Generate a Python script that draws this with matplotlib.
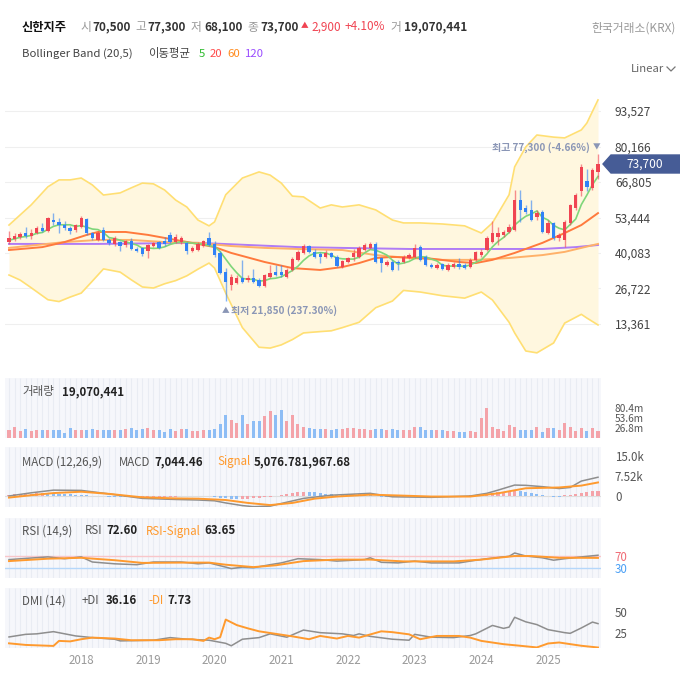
import matplotlib.pyplot as plt
from matplotlib.patches import Polygon
import numpy as np

plt.rcParams['font.family'] = ['Noto Sans CJK KR', 'DejaVu Sans']

# ---------------- 신한지주 월봉 (2016-12 ~ 2025-10), 가격 단위: 천원 ----------------
opens = [44.2, 45.3, 46.0, 47.6, 46.4, 47.6, 49.5, 48.5, 52.5, 51.7,
         50.6, 49.5, 48.7, 49.9, 52.8, 47.6, 45.0, 48.7, 44.9, 43.5,
         44.2, 43.1, 44.6, 41.6, 42.0, 40.8, 42.7, 44.2, 44.6, 46.8,
         44.2, 44.2, 43.8, 40.8, 41.2, 42.7, 45.7, 43.4, 40.1, 32.9,
         28.0, 28.8, 30.7, 29.9, 30.7, 29.9, 27.7, 31.0, 32.9, 32.9,
         31.0, 33.7, 37.5, 40.1, 42.7, 40.5, 39.7, 38.6, 40.1, 38.6,
         34.8, 36.7, 38.6, 38.6, 41.2, 42.0, 43.5, 38.2, 35.6, 36.7,
         36.7, 36.7, 38.2, 38.6, 42.3, 38.6, 35.6, 34.4, 35.9, 33.7,
         34.8, 35.9, 35.6, 34.8, 37.5, 39.3, 41.2, 44.2, 46.1, 46.9,
         48.0, 48.7, 60.0, 56.9, 56.3, 53.6, 55.5, 47.6, 51.4, 45.7,
         45.0, 51.4, 57.0, 63.5, 67.2, 64.5, 70.5]
highs = [48.4, 47.6, 48.0, 49.9, 49.1, 50.3, 51.4, 53.6, 55.2, 53.2,
         52.0, 50.3, 51.0, 54.0, 53.2, 48.0, 48.4, 49.9, 45.7, 46.5,
         44.6, 45.0, 45.7, 42.3, 42.3, 43.5, 44.2, 44.6, 46.1, 48.0,
         47.3, 46.5, 44.2, 42.7, 44.2, 45.0, 48.0, 44.6, 40.8, 34.4,
         32.0, 31.8, 37.5, 31.8, 34.0, 30.7, 32.2, 35.5, 35.5, 35.5,
         34.4, 38.6, 41.2, 43.5, 43.1, 41.6, 40.5, 41.2, 40.5, 39.3,
         37.5, 38.6, 41.6, 42.7, 43.8, 44.2, 44.2, 38.6, 37.5, 37.5,
         37.5, 39.3, 40.1, 43.5, 43.1, 39.3, 36.3, 36.3, 36.3, 36.3,
         36.7, 38.2, 36.3, 38.2, 40.8, 41.6, 46.5, 52.0, 50.0, 48.7,
         51.0, 63.7, 63.7, 58.1, 60.0, 56.3, 56.3, 52.5, 51.8, 47.6,
         52.5, 58.5, 62.7, 73.6, 71.6, 72.0, 77.3]
lows = [43.5, 44.6, 45.4, 45.7, 45.4, 47.2, 47.9, 48.0, 50.6, 47.6,
        48.7, 47.2, 47.9, 49.5, 46.9, 45.0, 44.6, 44.6, 43.1, 42.7,
        40.8, 42.3, 41.2, 40.5, 39.0, 38.2, 42.3, 41.6, 42.7, 43.8,
        43.8, 43.5, 39.7, 40.5, 40.8, 42.3, 42.7, 38.6, 32.2, 21.85,
        26.0, 28.4, 28.8, 29.2, 28.8, 27.3, 27.3, 30.7, 31.4, 31.0,
        30.7, 33.3, 37.1, 39.7, 40.1, 38.2, 36.3, 38.2, 38.2, 34.8,
        34.4, 36.3, 37.0, 38.2, 40.8, 41.6, 36.3, 32.9, 35.2, 33.3,
        33.7, 36.3, 37.8, 38.2, 37.1, 35.2, 34.4, 34.1, 33.7, 33.3,
        34.4, 34.1, 34.1, 34.4, 37.1, 38.6, 40.8, 43.8, 43.1, 46.1,
        47.6, 48.4, 51.8, 54.8, 52.1, 52.5, 47.6, 47.2, 45.0, 44.6,
        42.3, 50.6, 56.3, 61.5, 63.5, 63.8, 68.1]
closes = [45.7, 46.5, 47.3, 46.5, 47.6, 49.5, 48.3, 53.2, 51.7, 50.6,
          49.5, 48.3, 50.6, 53.2, 47.6, 45.7, 47.6, 44.9, 43.8, 45.7,
          42.7, 44.6, 41.6, 40.8, 39.7, 43.1, 43.8, 41.95, 43.5, 44.2,
          46.0, 45.7, 41.0, 41.95, 43.5, 44.6, 43.1, 39.3, 32.6, 29.2,
          31.0, 30.7, 29.2, 30.7, 29.2, 27.7, 31.8, 32.5, 31.8, 31.8,
          33.7, 37.8, 40.5, 42.7, 40.5, 38.6, 38.6, 40.1, 38.6, 35.2,
          37.1, 38.2, 40.1, 41.95, 43.1, 43.5, 36.7, 36.3, 36.7, 33.7,
          36.3, 38.6, 39.3, 41.95, 37.5, 35.6, 34.8, 35.6, 34.1, 35.6,
          35.9, 34.8, 34.4, 37.5, 40.5, 40.5, 45.7, 47.6, 47.6, 48.0,
          49.9, 60.0, 56.3, 55.5, 52.5, 55.1, 48.0, 51.4, 45.7, 46.9,
          51.8, 58.1, 62.0, 72.5, 64.9, 71.3, 73.7]
# 거래량 (백만 주)
volume_m = [20.6, 29.5, 17.9, 23.3, 17.9, 22.2, 20.6, 22.2, 20.6, 22.2,
            14.2, 27.6, 21.4, 22.2, 22.2, 24.1, 22.2, 20.6, 20.6, 20.6,
            22.2, 24.9, 27.6, 20.6, 24.9, 27.6, 20.6, 21.4, 16.8, 24.1,
            17.9, 24.9, 24.9, 17.9, 17.9, 22.2, 22.2, 23.3, 38.3, 62.5,
            49.0, 41.0, 62.5, 38.3, 46.3, 44.7, 59.0, 73.1, 62.5, 75.8,
            44.7, 62.5, 38.3, 29.3, 26.9, 24.1, 24.1, 24.1, 21.4, 24.1,
            24.1, 26.9, 26.9, 24.1, 24.1, 21.4, 24.1, 24.1, 21.4, 24.1,
            21.4, 21.4, 21.4, 29.3, 29.3, 21.4, 21.4, 21.4, 21.4, 18.7,
            18.7, 16.0, 16.0, 18.7, 16.0, 53.8, 80.7, 29.3, 24.6, 18.7,
            35.1, 29.3, 21.1, 21.1, 21.1, 29.3, 16.4, 26.9, 26.9, 21.1,
            39.8, 29.3, 18.7, 26.9, 18.7, 26.9, 19.07]

ma5 = [44.9, 45.4, 46.0, 46.3, 46.7, 47.5, 47.8, 49.0, 50.1, 50.7,
       50.7, 50.7, 50.1, 50.4, 49.8, 49.1, 48.9, 47.8, 45.9, 45.5,
       44.9, 44.3, 43.7, 43.1, 41.9, 42.0, 41.8, 41.9, 42.4, 43.3,
       43.9, 44.3, 44.1, 43.8, 43.6, 43.4, 42.8, 42.5, 40.6, 37.8,
       35.0, 32.6, 30.5, 30.2, 30.2, 29.5, 29.7, 30.4, 30.6, 31.1,
       32.3, 33.5, 35.1, 37.3, 39.0, 40.0, 40.2, 40.1, 39.3, 38.2,
       37.9, 37.8, 37.8, 38.5, 40.1, 41.4, 41.1, 40.3, 39.3, 37.4,
       35.9, 36.3, 36.9, 38.0, 38.7, 38.6, 37.8, 37.1, 35.5, 35.1,
       35.2, 35.2, 35.0, 35.6, 36.6, 37.5, 39.7, 42.4, 44.4, 45.9,
       47.8, 50.6, 52.4, 53.9, 54.8, 55.9, 53.5, 52.5, 50.5, 49.4,
       48.8, 50.8, 52.9, 58.3, 61.9, 65.8, 68.9]

ma20_x = [0, 6, 10, 14, 16, 21, 25, 30, 35, 37, 40, 46, 51, 56, 60, 63, 66,
          69, 75, 81, 84, 87, 91, 96, 100, 103, 106]
ma20 = [41.2, 42.3, 44.2, 46.9, 48.0, 48.0, 46.9, 45.0, 43.1, 42.3, 40.1,
        36.7, 34.4, 33.7, 34.8, 36.3, 38.2, 38.6, 38.2, 36.7, 36.3, 37.5,
        40.1, 43.9, 47.6, 50.6, 55.1]
ma60_x = [0, 10, 16, 22, 28, 34, 40, 46, 52, 60, 66, 72, 78, 84, 90, 96, 100, 106]
ma60 = [42.0, 44.2, 45.0, 45.0, 44.2, 43.9, 42.7, 42.0, 41.6, 41.2, 39.3,
        38.2, 37.5, 37.5, 38.2, 39.3, 40.5, 43.5]
ma120_x = [0, 16, 34, 52, 60, 72, 84, 96, 102, 106]
ma120 = [43.5, 43.5, 43.9, 42.3, 42.0, 41.6, 41.6, 41.6, 42.3, 43.1]

bb_x = [0, 2, 4, 7, 9, 11, 13, 15, 17, 20, 22, 24, 26, 28, 30, 32, 34, 36,
        37, 39, 42, 45, 47, 49, 51, 53, 56, 58, 60, 63, 66, 69, 71, 74, 78,
        82, 85, 87, 90, 91, 93, 95, 98, 100, 103, 104, 106]
bb_upper = [50.6, 54.4, 58.2, 65.0, 67.6, 67.6, 68.3, 65.7, 61.9, 62.7,
            64.6, 66.4, 66.1, 63.8, 60.0, 57.4, 52.5, 50.3, 51.8, 62.0,
            68.3, 70.6, 69.4, 66.4, 61.5, 61.2, 57.0, 58.2, 57.4, 58.2,
            56.3, 52.5, 51.4, 51.4, 51.0, 50.3, 47.6, 51.4, 62.0, 72.5,
            80.0, 84.5, 83.7, 83.4, 86.4, 89.0, 97.7]
bb_lower = [31.8, 29.9, 27.0, 22.5, 21.8, 23.5, 25.0, 29.5, 34.1, 32.9,
            30.0, 27.3, 26.9, 28.5, 29.7, 31.5, 34.0, 36.3, 34.4, 25.0,
            12.0, 4.6, 4.3, 5.5, 7.5, 10.0, 10.5, 10.8, 12.0, 14.0,
            19.5, 22.0, 26.0, 25.4, 24.0, 23.1, 25.4, 22.4, 14.0, 10.0,
            3.2, 2.5, 6.2, 13.7, 17.0, 15.6, 13.0]

# MACD (천 단위)
macd_x = [0, 4, 8, 13, 18, 24, 30, 34, 37, 39, 42, 44, 47, 49, 53, 58, 65,
          69, 76, 83, 86, 88, 91, 93, 96, 99, 101, 103, 106]
macd = [0.0, 1.2, 2.2, 2.1, 0.8, -0.9, -1.3, -1.5, -1.8, -2.6, -3.6, -4.0,
        -3.8, -2.8, -0.9, 0.3, 1.0, -0.3, -0.5, 0.0, 1.0, 2.2, 4.1, 4.0,
        3.5, 2.8, 3.2, 5.6, 7.04]
signal_x = [0, 4, 8, 13, 18, 24, 30, 34, 39, 43, 47, 51, 55, 59, 65, 70, 76,
            83, 88, 93, 99, 103, 106]
signal = [-0.6, 0.3, 1.1, 1.6, 0.8, -0.5, -0.9, -1.0, -1.5, -2.6, -3.4, -2.6,
          -1.0, -0.2, 0.5, 0.2, -0.2, -0.2, 1.0, 2.9, 3.2, 3.9, 5.08]
macd_hist = [0.5, 0.6, 0.7, 0.8, 0.9, 1.0, 1.1, 1.0, 0.9, 0.8,
             0.7, 0.6, 0.5, 0.4, 0.3, 0.1, 0.0, -0.1, -0.2, -0.3,
             -0.4, -0.5, -0.5, -0.6, -0.5, -0.5, -0.4, -0.4, -0.3, -0.3,
             -0.2, -0.1, -0.1, 0.0, 0.1, 0.1, 0.0, -0.3, -0.6, -0.9,
             -1.0, -1.2, -1.1, -1.0, -0.8, -0.6, -0.4, -0.2, 0.1, 0.4,
             0.8, 1.2, 1.5, 1.6, 1.5, 1.4, 1.2, 0.9, 0.7, 0.5,
             0.4, 0.5, 0.6, 0.6, 0.5, 0.4, 0.1, -0.2, -0.4, -0.5,
             -0.4, -0.3, -0.2, 0.0, -0.1, -0.2, -0.3, -0.3, -0.2, -0.1,
             0.0, 0.0, 0.1, 0.2, 0.4, 0.6, 0.9, 1.2, 1.4, 1.6,
             1.9, 2.3, 1.8, 1.4, 1.0, 0.6, 0.3, 0.0, -0.2, -0.4,
             0.2, 0.5, 0.8, 1.2, 1.5, 1.7, 1.97]

rsi_x = [0, 3, 7, 10, 13, 15, 19, 23, 26, 31, 34, 36, 39, 40, 42, 44, 47, 49,
         52, 56, 59, 64, 65, 67, 70, 73, 76, 81, 83, 86, 90, 91, 93, 96, 98,
         100, 103, 106]
rsi = [58, 62, 67, 61, 67, 50, 44, 41, 50, 50, 44, 47, 33, 28, 33, 31, 41, 47,
       61, 58, 53, 58, 64, 49, 47, 53, 47, 47, 53, 61, 69, 80, 70, 64, 56,
       61, 67, 72.6]
rsi_sig_x = [0, 7, 13, 19, 24, 31, 36, 39, 44, 48, 53, 59, 65, 71, 80, 85, 91,
             94, 99, 103, 106]
rsi_sig = [53, 61, 64, 56, 47, 48, 48, 41, 33, 39, 53, 58, 58, 52, 52, 58, 70,
           70, 64, 64, 63.65]

pdi_x = [0, 3, 5, 8, 12, 15, 19, 20, 26, 29, 32, 36, 39, 40, 42, 45, 47, 50,
         53, 56, 60, 62, 63, 65, 69, 72, 73, 76, 80, 83, 84, 87, 89, 90, 91,
         93, 95, 97, 100, 101, 103, 105, 106]
pdi = [20.3, 23.4, 24.0, 26.6, 21.5, 19.5, 17.6, 15.6, 16.4, 19.5, 17.6, 16.4,
       12.7, 9.8, 17.6, 19.5, 24.0, 20.0, 28.5, 25.4, 24.0, 22.0, 24.0, 21.0,
       17.6, 16.4, 23.4, 20.0, 19.5, 22.0, 24.0, 34.0, 30.5, 32.0, 43.7, 38.3,
       35.0, 29.0, 25.4, 24.6, 31.0, 38.0, 36.16]
mdi_x = [0, 3, 8, 9, 11, 13, 15, 19, 22, 27, 30, 33, 35, 36, 37, 38, 39, 41,
         43, 45, 48, 51, 54, 56, 59, 61, 63, 67, 69, 72, 74, 77, 81, 83, 85,
         89, 92, 95, 97, 99, 103, 106]
mdi = [12.7, 10.8, 9.6, 15.6, 15.0, 17.6, 19.5, 18.4, 16.4, 16.4, 17.6, 17.6,
       15.6, 19.5, 17.6, 20.0, 41.0, 34.4, 30.5, 27.0, 24.0, 21.0, 17.6, 21.5,
       18.4, 21.5, 19.5, 27.0, 26.0, 23.4, 17.6, 21.5, 21.5, 19.5, 15.6, 11.7,
       9.8, 7.8, 12.5, 13.7, 9.8, 7.73]

year_ticks = [13, 25, 37, 49, 61, 73, 85, 97]
year_labels = ['2018', '2019', '2020', '2021', '2022', '2023', '2024', '2025']
price_ticks = [13.361, 26.722, 40.083, 53.444, 66.805, 80.166, 93.527]

# ---------------- 색상 ----------------
RED = '#f04452'
BLUE = '#3182f6'
VRED = '#f4a3a9'
VBLUE = '#8dbdf5'
ORANGE = '#ff9a2e'
GRAY = '#8e8e8e'
PANEL = '#f6f7fb'

W, H = 680, 697
fig = plt.figure(figsize=(W / 100, H / 100), dpi=100)
XL = (-0.72, 106.54)


def axes_px(x0, y0, x1, y1):
    return fig.add_axes([x0 / W, 1 - y1 / H, (x1 - x0) / W, (y1 - y0) / H])


def style(ax, panel=True):
    ax.set_xlim(*XL)
    for s in ax.spines.values():
        s.set_visible(False)
    ax.set_xticks([])
    ax.yaxis.tick_right()
    ax.tick_params(axis='y', length=0, pad=10, labelsize=8.3, labelcolor='#555')
    if panel:
        ax.set_facecolor(PANEL)
        ax.vlines(np.arange(len(closes)), 0, 1, transform=ax.get_xaxis_transform(),
                  color='#e9ecf3', lw=0.8, zorder=0)


o = np.array(opens)
h = np.array(highs)
l = np.array(lows)
c = np.array(closes)
x = np.arange(len(c))
up = c >= o
cols = np.where(up, RED, BLUE)

# ---------------- 메인 차트 ----------------
ax = axes_px(5, 88, 601, 370)
style(ax, panel=False)
ax.set_ylim(-3.956, 102.19)
ax.set_yticks(price_ticks)
ax.set_yticklabels([f'{v * 1000:,.0f}' for v in price_ticks])
ax.tick_params(axis='y', labelsize=8.6, labelcolor='#444')
ax.grid(axis='y', color='#efefef', lw=0.8)
ax.set_axisbelow(True)

ax.fill_between(bb_x, bb_lower, bb_upper, color='#fff7df', lw=0, zorder=1)
ax.plot(bb_x, bb_upper, color='#ffdf73', lw=1.2, zorder=2)
ax.plot(bb_x, bb_lower, color='#ffdf73', lw=1.2, zorder=2)
ax.plot(ma120_x, ma120, color='#b07cf5', lw=1.4, zorder=3)
ax.plot(ma60_x, ma60, color='#ffb169', lw=1.4, zorder=3)
ax.plot(ma20_x, ma20, color='#ff7a3d', lw=1.4, zorder=3)
ax.plot(x, ma5, color='#7fd67a', lw=1.2, zorder=3)

ax.vlines(x, l, h, colors=cols, lw=1, alpha=0.6, zorder=4)
ax.bar(x, np.maximum(np.abs(c - o), 0.25), bottom=np.minimum(o, c), width=0.6,
       color=cols, zorder=5)

# ---------------- 거래량 ----------------
av = axes_px(5, 378, 601, 438)
style(av)
av.set_ylim(0, 160.8)
av.bar(x, volume_m, width=0.55, color=np.where(up, VRED, VBLUE), zorder=2)
av.set_yticks([26.8, 53.6, 80.4])
av.set_yticklabels(['26.8m', '53.6m', '80.4m'])
av.tick_params(axis='y', labelsize=7.3)

# ---------------- MACD ----------------
am = axes_px(5, 447, 601, 507)
style(am)
am.set_ylim(-4.125, 18.375)
am.axhline(0, color='#dedede', lw=0.8, zorder=1)
hist = np.array(macd_hist)
rising = np.r_[True, hist[1:] >= hist[:-1]]
am.bar(x, hist, width=0.55, color=np.where(rising, VRED, VBLUE), zorder=2)
am.plot(macd_x, macd, color=GRAY, lw=1.1, zorder=3)
am.plot(signal_x, signal, color=ORANGE, lw=1.4, zorder=3)
am.set_yticks([0, 7.52, 15.0])
am.set_yticklabels(['0', '7.52k', '15.0k'])

# ---------------- RSI ----------------
ar = axes_px(5, 518, 601, 578)
style(ar)
ar.set_ylim(-3.33, 196.7)
ar.axhline(70, color='#f8c6ca', lw=1, zorder=1)
ar.axhline(30, color='#b5d7fa', lw=1, zorder=1)
ar.plot(rsi_x, rsi, color=GRAY, lw=1.1, zorder=3)
ar.plot(rsi_sig_x, rsi_sig, color=ORANGE, lw=1.4, zorder=3)
ar.set_yticks([30, 70])
ar.set_yticklabels(['30', '70'])
for lbl, col in zip(ar.get_yticklabels(), ['#4a9ff5', '#f06a74']):
    lbl.set_color(col)

# ---------------- DMI ----------------
ad = axes_px(5, 588, 601, 648)
style(ad)
ad.set_ylim(7.14, 78.57)
ad.plot(pdi_x, pdi, color=GRAY, lw=1.1, zorder=3)
ad.plot(mdi_x, mdi, color=ORANGE, lw=1.4, zorder=3)
ad.set_yticks([25, 50])
ad.set_xticks(year_ticks)
ad.set_xticklabels(year_labels)
ad.tick_params(axis='x', length=0, pad=4.5, labelsize=8.3, labelcolor='#9a9a9a')

# ---------------- 텍스트 오버레이 ----------------
ov = fig.add_axes([0, 0, 1, 1])
ov.set_xlim(0, W)
ov.set_ylim(H, 0)
ov.axis('off')
ov.patch.set_alpha(0)


def t(px, py, s, color='#333', weight='normal', size=8.3, ha='left'):
    ov.text(px, py, s, color=color, fontweight=weight, fontsize=size,
            ha=ha, va='center')


t(22, 27, '신한지주', '#111', 'bold', 8.8)
t(80, 27, '시', '#999', size=8.5)
t(92, 27, '70,500', '#333', 'bold', 8.5)
t(135, 27, '고', '#999', size=8.5)
t(147, 27, '77,300', '#333', 'bold', 8.5)
t(191, 27, '저', '#999', size=8.5)
t(204, 27, '68,100', '#333', 'bold', 8.5)
t(247, 27, '종', '#999', size=8.5)
t(260, 27, '73,700', '#333', 'bold', 8.5)
t(301, 26, '▲', RED, size=5.5)
t(311, 27, '2,900', RED, size=8.5)
t(345, 27, '+4.10%', RED, size=8.5)
t(390, 27, '거', '#999', size=8.5)
t(404, 27, '19,070,441', '#333', 'bold', 8.5)
t(676, 28, '한국거래소(KRX)', '#9a9a9a', size=8.5, ha='right')

t(22, 54, 'Bollinger Band (20,5)', '#444', size=8.2)
t(148, 54, '이동평균', '#444', size=8.2)
t(199, 54, '5', '#2dbb2d', size=8.2)
t(210, 54, '20', '#ff4b4b', size=8.2)
t(227, 54, '60', '#ff8a1c', size=8.2)
t(245, 54, '120', '#9a4dff', size=8.2)
t(664, 69, 'Linear', '#666', size=8.2, ha='right')
ov.plot([667, 671, 675], [67, 71, 67], color='#777', lw=0.9)

ov.add_patch(Polygon([(603, 164), (611, 155), (680, 155), (680, 173), (611, 173)],
                     closed=True, color='#465c96'))
t(645, 164, '73,700', 'white', size=8.6, ha='center')
t(590, 148, '최고 77,300 (-4.66%)', '#8a96b6', 'bold', 7.2, ha='right')
t(593, 148, '▼', '#8a96b6', size=5.5)
t(222, 311, '▲', '#8a96b6', size=5.5)
t(231, 311, '최저 21,850 (237.30%)', '#8a96b6', 'bold', 7.2)

t(22, 392, '거래량', '#555')
t(62, 392, '19,070,441', '#222', 'bold')
t(22, 462, 'MACD (12,26,9)', '#555')
t(119, 462, 'MACD', '#555')
t(154, 462, '7,044.46', '#222', 'bold')
t(217, 462, 'Signal', ORANGE)
t(254, 462, '5,076.781,967.68', '#222', 'bold')
t(22, 531, 'RSI (14,9)', '#555')
t(85, 531, 'RSI', '#555')
t(106, 531, '72.60', '#222', 'bold')
t(146, 531, 'RSI-Signal', ORANGE)
t(204, 531, '63.65', '#222', 'bold')
t(22, 601, 'DMI (14)', '#555')
t(82, 601, '+DI', '#555')
t(106, 601, '36.16', '#222', 'bold')
t(148, 601, '-DI', ORANGE)
t(167, 601, '7.73', '#222', 'bold')

fig.savefig('out.png', dpi=100)
